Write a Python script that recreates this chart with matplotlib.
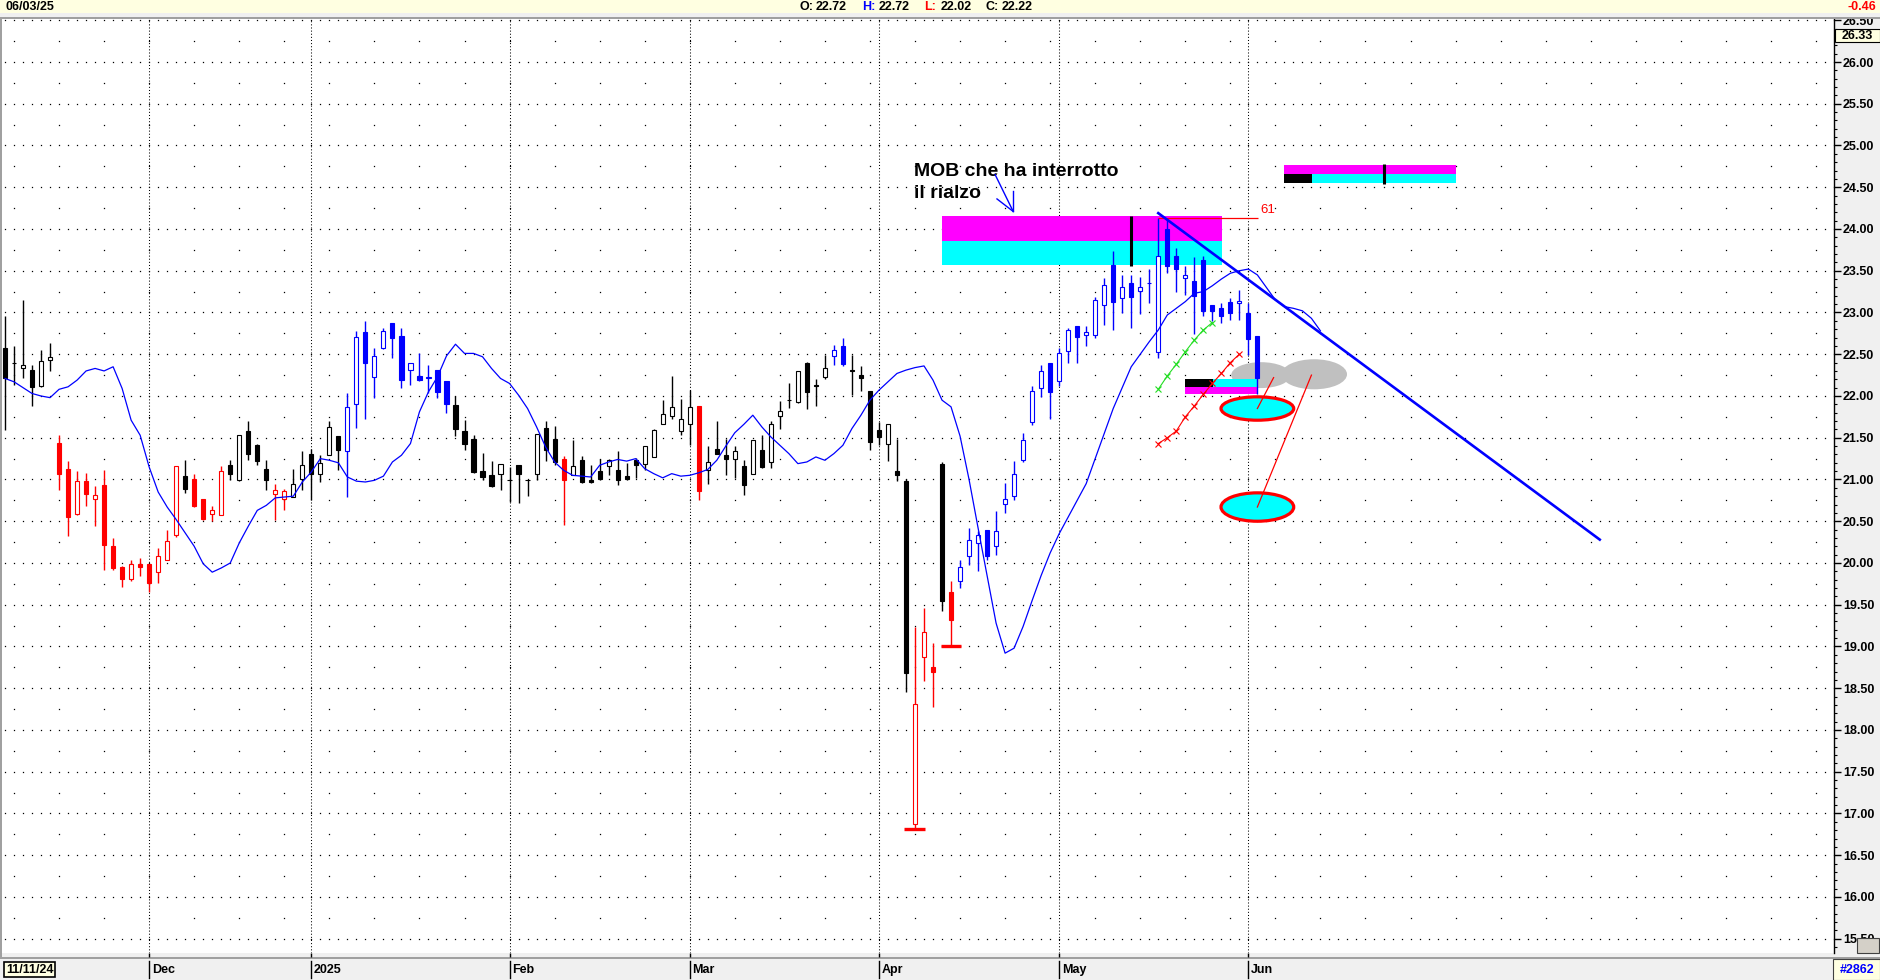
import numpy as np
import pandas as pd
import matplotlib
matplotlib.use('Agg')
import matplotlib.pyplot as plt
import matplotlib.transforms as mtrans
from matplotlib.patches import Rectangle, Ellipse
from matplotlib.ticker import MultipleLocator

plt.rcParams['font.family'] = ['Liberation Sans', 'DejaVu Sans']

# giorni di borsa (calendario Borsa Italiana)
holidays = pd.to_datetime(['2024-12-24', '2024-12-25', '2024-12-26', '2024-12-31',
                           '2025-01-01', '2025-04-18', '2025-04-21', '2025-05-01'])
days = pd.bdate_range('2024-11-08', '2025-06-03')
days = days[~days.isin(holidays)]

opens = [22.57, 22.39, 22.33, 22.31, 22.12, 22.43, 21.44, 21.13, 20.59, 20.98,
         20.77, 20.93, 20.20, 19.95, 19.81, 19.99, 19.99, 19.89, 20.03, 20.33,
         21.04, 21.00, 20.77, 20.59, 20.57, 21.17, 20.99, 21.58, 21.41, 21.13,
         20.83, 20.77, 20.79, 21.01, 21.31, 21.07, 21.29, 21.52, 21.34, 21.91,
         22.77, 22.23, 22.57, 22.87, 22.72, 22.31, 22.24, 22.21, 22.31, 22.18,
         21.89, 21.58, 21.49, 21.10, 21.05, 21.07, 20.99, 21.17, 20.99, 21.07,
         21.62, 21.49, 21.25, 21.05, 21.23, 20.99, 21.10, 21.16, 21.11, 21.04,
         21.23, 21.19, 21.27, 21.67, 21.76, 21.58, 21.67, 21.88, 21.11, 21.37,
         21.29, 21.25, 21.16, 21.07, 21.35, 21.21, 21.76, 21.95, 21.93, 22.39,
         22.12, 22.23, 22.48, 22.60, 22.31, 22.25, 22.06, 21.59, 21.43, 21.10,
         20.98, 16.87, 18.88, 18.76, 21.19, 19.65, 19.79, 20.08, 20.24, 20.40,
         20.20, 20.71, 20.80, 21.23, 21.69, 22.09, 22.40, 22.18, 22.54, 22.84,
         22.73, 22.73, 23.09, 23.57, 23.17, 23.35, 23.26, 23.35, 22.53, 24.00,
         23.68, 23.41, 23.38, 23.63, 23.09, 23.05, 23.13, 23.11, 22.99, 22.72]
highs = [22.96, 22.60, 23.15, 22.37, 22.55, 22.63, 21.53, 21.22, 21.10, 21.08,
         20.92, 21.11, 20.30, 19.96, 20.04, 20.06, 19.99, 20.18, 20.39, 21.16,
         21.23, 21.07, 20.77, 20.68, 21.16, 21.23, 21.53, 21.70, 21.43, 21.23,
         20.95, 20.89, 21.13, 21.34, 21.37, 21.29, 21.70, 21.52, 22.03, 22.78,
         22.90, 22.57, 22.82, 22.87, 22.81, 22.39, 22.51, 22.37, 22.31, 22.18,
         22.00, 21.71, 21.53, 21.32, 21.22, 21.19, 21.15, 21.17, 20.99, 21.55,
         21.70, 21.64, 21.28, 21.47, 21.28, 21.17, 21.24, 21.24, 21.34, 21.20,
         21.26, 21.40, 21.61, 21.95, 22.24, 21.96, 22.07, 21.88, 21.40, 21.70,
         21.49, 21.40, 21.23, 21.47, 21.53, 21.70, 21.94, 22.16, 22.30, 22.41,
         22.20, 22.49, 22.61, 22.69, 22.49, 22.36, 22.06, 21.69, 21.67, 21.48,
         21.00, 19.23, 19.46, 19.04, 21.21, 19.79, 20.04, 20.42, 20.38, 20.40,
         20.62, 20.96, 21.22, 21.56, 22.12, 22.37, 22.40, 22.57, 22.82, 22.84,
         22.84, 23.18, 23.41, 23.74, 23.45, 23.45, 23.43, 23.52, 24.13, 24.12,
         23.77, 23.56, 23.67, 23.68, 23.09, 23.11, 23.17, 23.27, 23.11, 22.72]
lows = [21.59, 22.13, 22.21, 21.88, 22.11, 22.30, 20.87, 20.32, 20.57, 20.68,
        20.44, 19.92, 19.92, 19.71, 19.78, 19.84, 19.65, 19.76, 20.03, 20.31,
        20.84, 20.67, 20.51, 20.50, 20.57, 20.99, 20.98, 21.23, 21.17, 20.88,
        20.51, 20.63, 20.79, 20.88, 20.75, 20.97, 21.29, 21.11, 20.79, 21.62,
        21.72, 21.98, 22.56, 22.46, 22.10, 22.13, 22.18, 22.04, 21.98, 21.80,
        21.52, 21.35, 21.08, 20.99, 20.91, 20.88, 20.73, 20.72, 20.80, 20.99,
        21.22, 21.17, 20.46, 21.05, 20.96, 20.96, 20.99, 21.05, 20.93, 20.99,
        21.02, 21.11, 21.27, 21.66, 21.72, 21.53, 21.41, 20.75, 20.94, 21.31,
        21.05, 21.02, 20.81, 21.06, 21.14, 21.14, 21.60, 21.86, 21.92, 21.84,
        21.88, 22.20, 22.37, 22.36, 22.01, 22.06, 21.35, 21.41, 21.22, 20.98,
        18.46, 16.82, 18.59, 18.28, 19.42, 19.00, 19.70, 19.98, 19.90, 20.04,
        20.09, 20.60, 20.76, 21.21, 21.65, 21.99, 21.72, 22.12, 22.40, 22.40,
        22.60, 22.70, 22.85, 22.79, 22.99, 22.82, 22.98, 23.11, 22.46, 23.47,
        23.24, 23.21, 22.74, 22.96, 22.90, 22.88, 22.91, 22.91, 22.49, 22.02]
closes = [22.21, 22.39, 22.37, 22.11, 22.42, 22.47, 21.07, 20.55, 20.98, 20.83,
          20.81, 20.21, 19.94, 19.81, 19.99, 19.95, 19.76, 20.08, 20.26, 21.16,
          20.89, 20.68, 20.53, 20.63, 21.10, 21.07, 21.53, 21.31, 21.22, 20.99,
          20.87, 20.86, 20.95, 21.17, 21.07, 21.20, 21.63, 21.35, 21.87, 22.71,
          22.39, 22.48, 22.78, 22.69, 22.19, 22.39, 22.19, 22.23, 22.05, 21.91,
          21.61, 21.43, 21.09, 21.03, 20.92, 21.19, 20.99, 21.07, 20.99, 21.55,
          21.35, 21.21, 20.99, 21.16, 20.97, 20.97, 21.01, 21.23, 20.99, 21.01,
          21.17, 21.40, 21.59, 21.79, 21.87, 21.73, 21.87, 20.86, 21.21, 21.31,
          21.25, 21.34, 20.93, 21.47, 21.15, 21.67, 21.82, 21.95, 22.30, 22.05,
          22.12, 22.33, 22.55, 22.38, 22.30, 22.21, 21.45, 21.51, 21.67, 21.05,
          18.68, 18.31, 19.17, 18.70, 19.55, 19.32, 19.95, 20.28, 20.33, 20.08,
          20.38, 20.77, 21.07, 21.47, 22.06, 22.30, 22.05, 22.51, 22.79, 22.71,
          22.77, 23.15, 23.33, 23.13, 23.31, 23.19, 23.31, 23.35, 23.68, 23.56,
          23.52, 23.45, 23.20, 23.02, 23.02, 22.96, 22.99, 23.14, 22.68, 22.22]
# colore della barra: k nero, r rosso, b blu
bar_color = ('k' * 6 + 'r' * 14 + 'k' + 'r' * 4 + 'k' * 5 + 'r' * 2 + 'k' * 6 + 'b' * 12
             + 'k' * 12 + 'r' + 'k' * 14 + 'r' + 'k' * 14 + 'b' * 2 + 'k' * 7 + 'r' * 3
             + 'k' + 'r' + 'b' * 34)

# media mobile spostata in avanti (finisce 7 barre dopo l'ultima candela)
ma_line = [22.21, 22.17, 22.10, 22.03, 22.00, 21.98, 22.08, 22.11, 22.19, 22.30,
           22.33, 22.30, 22.35, 22.09, 21.71, 21.53, 21.15, 20.85, 20.67, 20.52,
           20.36, 20.20, 19.99, 19.89, 19.94, 20.00, 20.24, 20.44, 20.63, 20.69,
           20.78, 20.79, 20.80, 20.97, 21.09, 21.25, 21.23, 21.20, 21.03, 20.98,
           20.97, 20.99, 21.04, 21.21, 21.29, 21.43, 21.81, 22.05, 22.23, 22.48,
           22.62, 22.51, 22.51, 22.47, 22.33, 22.21, 22.15, 22.01, 21.85, 21.63,
           21.39, 21.21, 21.11, 21.05, 21.04, 21.03, 21.17, 21.21, 21.24, 21.22,
           21.25, 21.13, 21.07, 21.02, 21.07, 21.04, 21.05, 21.08, 21.12, 21.23,
           21.40, 21.56, 21.66, 21.77, 21.63, 21.51, 21.41, 21.31, 21.19, 21.21,
           21.27, 21.23, 21.31, 21.41, 21.61, 21.77, 21.95, 22.07, 22.17, 22.27,
           22.31, 22.34, 22.36, 22.19, 21.95, 21.87, 21.52, 21.00, 20.42, 19.85,
           19.28, 18.92, 18.98, 19.24, 19.55, 19.85, 20.12, 20.35, 20.55, 20.75,
           20.95, 21.25, 21.55, 21.85, 22.10, 22.35, 22.50, 22.65, 22.79, 22.97,
           23.05, 23.13, 23.23, 23.25, 23.32, 23.40, 23.47, 23.50, 23.52, 23.45,
           23.30, 23.15, 23.07, 23.05, 23.02, 22.93, 22.78]

month_names = ['Dec', '2025', 'Feb', 'Mar', 'Apr', 'May', 'Jun']
cursor_price = 26.33

# disegni sul grafico, in (indice barra, prezzo)
mob_zone = (104.0, 135.1, 23.57, 23.86, 24.16)        # x0, x1, basso, meta, alto
mob_mark = (125, 23.56, 24.16)
up_zone = (142.0, 145.1, 161.1, 24.55, 24.66, 24.77)  # x0, fine nero, x1, basso, meta, alto
up_mark = (153, 24.54, 24.78)
low_zone = (131.0, 134.1, 139.1, 22.02, 22.11, 22.20)
trend_x = [128, 177]
trend_y = [24.19, 20.28]
green_x = [128, 129, 130, 131, 132, 133, 134]
green_y = [22.08, 22.24, 22.38, 22.53, 22.67, 22.79, 22.88]
redx_x = [128, 129, 130, 131, 132, 133, 134, 135, 136, 137]
redx_y = [21.43, 21.50, 21.58, 21.75, 21.88, 22.02, 22.15, 22.27, 22.40, 22.50]
fib_line = (128, 139.1, 24.13)
fib_label = '61'
swing_x0 = [99.8, 103.9]
swing_x1 = [102.1, 106.1]
swing_y = [16.82, 19.00]
clouds = [(139.4, 22.25, 6.6, 0.31), (145.3, 22.26, 7.3, 0.36)]
targets = [(139.0, 21.85, 8.07, 0.28), (139.0, 20.67, 8.07, 0.34)]
pointers = [([139.0, 140.8], [21.85, 22.22]), ([139.0, 145.0], [20.67, 22.25])]
note_lines = ['MOB che ha interrotto', 'il rialzo']
note_pos = (100.9, 24.63, 24.37)
arrow_tail = (109.9, 24.65)
arrow_tip = (111.9, 24.21)
arrow_arms = [(110.1, 24.36), (111.9, 24.46)]

# --- figura ---
W, H = 1880, 980
fig = plt.figure(figsize=(W / 100, H / 100), dpi=100)


def fx(px):
    return px / W


def fy(py):
    return 1 - py / H


def frect(x0, y0, x1, y1, color, z, **kw):
    fig.patches.append(Rectangle((fx(x0), fy(y1)), fx(x1) - fx(x0), fy(y0) - fy(y1),
                                 transform=fig.transFigure, facecolor=color,
                                 edgecolor=kw.pop('ec', 'none'), zorder=z, **kw))


ax = fig.add_axes([fx(2), fy(953), (1834 - 2) / W, (953 - 19) / H])
ax.set_xlim(-0.333, 203.0)
ax.set_ylim(15.329, 26.515)
for s in ['left', 'top', 'bottom']:
    ax.spines[s].set_visible(False)
ax.spines['right'].set_color('black')
ax.spines['right'].set_linewidth(1)

# griglia a puntini
gx = np.arange(0, 204)
lev = np.arange(15.5, 26.51, 0.5)
ax.plot(np.tile(gx, len(lev)), np.repeat(lev, len(gx)), ls='none', marker='s',
        ms=0.9, mew=0, color='black', zorder=1)
sx = np.arange(1, 204, 5)
lev2 = np.arange(15.75, 26.3, 0.5)
ax.plot(np.tile(sx, len(lev2)), np.repeat(lev2, len(sx)), ls='none', marker='s',
        ms=0.9, mew=0, color='black', zorder=1)

mon = days.month
month_idx = [i for i in range(1, len(days)) if mon[i] != mon[i - 1]]
ax.vlines(month_idx, 15.329, 26.515, colors='black', linestyles=(0, (1, 2)),
          linewidth=0.75, zorder=1.5)

# zone (la nuvola grigia sta sotto il riquadro)
for cx, cy, w, h in clouds:
    ax.add_patch(Ellipse((cx, cy), w, h, fc='#C0C0C0', ec='none', zorder=1.9))
x0, x1, lo, mid, hi = mob_zone
ax.add_patch(Rectangle((x0, mid), x1 - x0, hi - mid, fc='#FF00FF', ec='none', zorder=2))
ax.add_patch(Rectangle((x0, lo), x1 - x0, mid - lo, fc='#00FFFF', ec='none', zorder=2))
x0, xb, x1, lo, mid, hi = up_zone
ax.add_patch(Rectangle((x0, mid), x1 - x0, hi - mid, fc='#FF00FF', ec='none', zorder=2))
ax.add_patch(Rectangle((x0, lo), xb - x0, mid - lo, fc='black', ec='none', zorder=2))
ax.add_patch(Rectangle((xb, lo), x1 - xb, mid - lo, fc='#00FFFF', ec='none', zorder=2))
x0, xb, x1, lo, mid, hi = low_zone
ax.add_patch(Rectangle((x0, mid), xb - x0, hi - mid, fc='black', ec='none', zorder=2))
ax.add_patch(Rectangle((xb, mid), x1 - xb, hi - mid, fc='#00FFFF', ec='none', zorder=2))
ax.add_patch(Rectangle((x0, lo), x1 - x0, mid - lo, fc='#FF00FF', ec='none', zorder=2))

# candele
o, h, l, c = map(np.array, (opens, highs, lows, closes))
xi = np.arange(len(o))
cmap = {'k': 'black', 'r': '#FF0000', 'b': '#0000FF'}
cols = [cmap[ch] for ch in bar_color]
face = ['white' if up else col for up, col in zip(c > o, cols)]
ax.vlines(xi, l, h, colors=cols, linewidth=1, zorder=3)
ax.bar(xi, np.maximum(np.abs(c - o), 0.006), 0.46, bottom=np.minimum(o, c),
       color=face, edgecolor=cols, linewidth=0.8, zorder=3.2)

ax.plot(np.arange(len(ma_line)), ma_line, color='#0000FF', lw=0.9, zorder=4)

ax.plot(green_x, green_y, color='#22DD22', lw=0.8, marker='x', ms=5, mew=0.8, zorder=4.5)
ax.plot(redx_x, redx_y, color='#FF0000', lw=0.8, marker='x', ms=5, mew=0.8, zorder=4.5)
ax.hlines(swing_y, swing_x0, swing_x1, colors='#FF0000', linewidth=2.4, zorder=4.5)
ax.vlines([mob_mark[0], up_mark[0]], [mob_mark[1], up_mark[1]], [mob_mark[2], up_mark[2]],
          colors='black', linewidth=2.2, zorder=4.5)
ax.hlines(fib_line[2], fib_line[0], fib_line[1], colors='#FF0000', linewidth=0.9, zorder=4.5)
ax.text(fib_line[1] + 0.2, fib_line[2] + 0.1, fib_label, color='#FF0000', fontsize=9.5,
        ha='left', va='center', zorder=7)

for cx, cy, w, hh in targets:
    ax.add_patch(Ellipse((cx, cy), w, hh, fc='#00FFFF', ec='#FF0000', lw=2.3, zorder=5))
for px, py in pointers:
    ax.plot(px, py, color='#FF0000', lw=0.9, zorder=5.5)

ax.plot(trend_x, trend_y, color='#0000FF', lw=1.9, zorder=6)

ax.text(note_pos[0], note_pos[1], note_lines[0], fontsize=14, fontweight='bold',
        va='baseline', ha='left', zorder=7)
ax.text(note_pos[0], note_pos[2], note_lines[1], fontsize=14, fontweight='bold',
        va='baseline', ha='left', zorder=7)
ax.plot([arrow_tail[0], arrow_tip[0]], [arrow_tail[1], arrow_tip[1]], color='#0000FF', lw=1, zorder=7)
for ax_, ay_ in arrow_arms:
    ax.plot([ax_, arrow_tip[0]], [ay_, arrow_tip[1]], color='#0000FF', lw=1, zorder=7)

# asse prezzi a destra
ticks = np.arange(15.5, 26.51, 0.5)
ax.yaxis.tick_right()
ax.set_yticks(ticks, labels=[f'{v:.2f}' for v in ticks], fontweight='bold')
ax.yaxis.set_minor_locator(MultipleLocator(0.1))
ax.tick_params(axis='y', which='major', direction='out', length=5, width=1, pad=1.5,
               labelsize=9, colors='black')
ax.tick_params(axis='y', which='minor', direction='out', length=2, width=0.8)
ax.set_xticks(month_idx)
ax.tick_params(axis='x', direction='out', length=3, width=1, labelbottom=False)

# cornici della finestra
frect(1834, 19, 1880, 958, '#F0F0F0', -1)
frect(0, 953, 1880, 957, '#F0F0F0', -1)
frect(0, 957, 1880, 958.5, '#A0A0A0', -1)
frect(0, 958.5, 1880, 980, '#F0F0F0', -1)
frect(0, 19, 2, 957, '#A0A0A0', 5)
frect(0, 0, 1880, 13, '#FFFFE1', 5)
frect(0, 13, 1880, 17, '#F0F0F0', 5)
frect(0, 17, 1880, 19, '#A0A0A0', 5)
frect(1834.5, 29, 1880, 42, '#FFFFE1', 5, ec='black', lw=0.8)
fig.text(fx(1857), fy(35.8), f'{cursor_price:.2f}', ha='center', va='center',
         fontsize=9, fontweight='bold', zorder=6)
frect(1857, 938, 1879, 953, '#D4D0C8', 5, ec='#404040', lw=0.8)
frect(1833, 959, 1880, 980, '#FFFFE1', -0.5, ec='#404040', lw=0.8)
fig.text(fx(1857), fy(969.5), '#2862', ha='center', va='center', color='#0000FF',
         fontsize=9, fontweight='bold')

# intestazione
fig.text(fx(5), fy(6.5), days[-1].strftime('%m/%d/%y'), ha='left', va='center',
         fontsize=9, fontweight='bold', zorder=6)
head = [('O:', 'black', 800), (f'{opens[-1]:.2f}', 'black', 816),
        ('H:', '#0000FF', 862), (f'{highs[-1]:.2f}', 'black', 879),
        ('L:', '#FF0000', 924), (f'{lows[-1]:.2f}', 'black', 941),
        ('C:', 'black', 986), (f'{closes[-1]:.2f}', 'black', 1002)]
for txt, col, px in head:
    fig.text(fx(px), fy(6.5), txt, color=col, ha='left', va='center',
             fontsize=9, fontweight='bold', zorder=6)
fig.text(fx(1876), fy(6.5), f'{closes[-1] - closes[-2]:.2f}', color='#FF0000',
         ha='right', va='center', fontsize=9, fontweight='bold', zorder=6)

# barra delle date
tr = mtrans.blended_transform_factory(ax.transData, fig.transFigure)
for idx, name in zip(month_idx, month_names):
    ax.plot([idx, idx], [fy(961), fy(978)], transform=tr, color='black', lw=1, clip_on=False)
    ax.text(idx + 0.3, fy(969.5), name, transform=tr, ha='left', va='center',
            fontsize=9, fontweight='bold', clip_on=False)
fig.text(fx(6), fy(969.5), days[0].replace(day=11).strftime('%m/%d/%y'), ha='left', va='center',
         fontsize=9, fontweight='bold',
         bbox=dict(boxstyle='square,pad=0.15', fc='#FFFFE1', ec='black', lw=1.2))

fig.savefig('out.png', dpi=100)
